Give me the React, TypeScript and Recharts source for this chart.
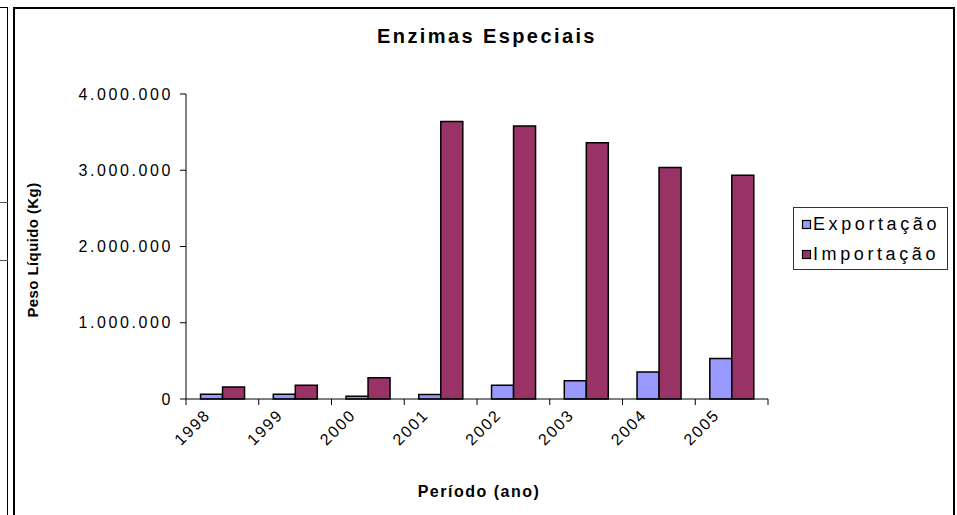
import React from 'react';
import { BarChart, Bar, XAxis, YAxis, Legend } from 'recharts';

const years = ['1998', '1999', '2000', '2001', '2002', '2003', '2004', '2005'];
const exportacao = [62000, 62000, 35000, 60000, 180000, 240000, 355000, 530000];
const importacao = [157000, 180000, 280000, 3640000, 3580000, 3360000, 3035000, 2935000];
const yTicks = [0, 1000000, 2000000, 3000000, 4000000];
const seriesNames = ['Exportação', 'Importação'];
const colors = ['#9999FF', '#993366'];

const data = years.map((y, i) => ({ year: y, exp: exportacao[i], imp: importacao[i] }));

const FONT = '"Liberation Sans", Arial, Helvetica, sans-serif';

const fmt = (v: number) => String(v).replace(/\B(?=(\d{3})+(?!\d))/g, '.');

const XTick = (props: any) => {
  const { x, y, payload, index, visibleTicksCount } = props;
  const half = payload && typeof payload.offset === 'number' && payload.offset > 0 ? payload.offset : 36.4;
  const last = index === (visibleTicksCount ?? years.length) - 1;
  const tx = x - 11;
  const ty = y + 17;
  return (
    <g>
      <line x1={x - half} x2={x - half} y1={y} y2={y + 6} stroke="#000" strokeWidth={1} />
      {last && <line x1={x + half} x2={x + half} y1={y} y2={y + 6} stroke="#000" strokeWidth={1} />}
      <text
        x={tx}
        y={ty}
        textAnchor="end"
        transform={`rotate(-45 ${tx} ${ty})`}
        fontFamily={FONT}
        fontSize={16}
        letterSpacing={1.8}
        fill="#000"
      >
        {payload.value}
      </text>
    </g>
  );
};

const renderLegend = (props: any) => {
  const payload = props.payload || [];
  return (
    <svg width={155} height={63} style={{ display: 'block' }}>
      <rect x={0.5} y={0.5} width={154} height={62} fill="#fff" stroke="#333" strokeWidth={1} />
      {payload.map((e: any, i: number) => (
        <g key={i}>
          <rect x={9.5} y={13.5 + i * 30} width={8} height={8} fill={e.color} stroke="#000" strokeWidth={1.2} />
          <text x={20} y={23 + i * 30} fontFamily={FONT} fontSize={18} letterSpacing={3.6} fill="#000">
            {e.value}
          </text>
        </g>
      ))}
    </svg>
  );
};

export default function App() {
  return (
    <div style={{ position: 'absolute', left: 0, top: 0, width: 957, height: 515, background: '#fff', overflow: 'hidden' }}>
      <BarChart
        width={957}
        height={515}
        data={data}
        margin={{ top: 94, right: 189, bottom: 56, left: 86 }}
        barCategoryGap="20%"
        barGap={0}
      >
        <XAxis
          dataKey="year"
          height={60}
          axisLine={{ stroke: '#000', strokeWidth: 1 }}
          tickLine={false}
          tickSize={0}
          tickMargin={0}
          interval={0}
          tick={<XTick />}
        />
        <YAxis
          width={100}
          domain={[0, 4000000]}
          ticks={yTicks}
          interval={0}
          tickFormatter={fmt}
          axisLine={{ stroke: '#000', strokeWidth: 1 }}
          tickLine={{ stroke: '#000', strokeWidth: 1 }}
          tickSize={6}
          tickMargin={7}
          tick={{ fill: '#000', fontSize: 16, fontFamily: FONT, letterSpacing: 2.6 }}
        />
        <Legend
          layout="vertical"
          align="center"
          verticalAlign="middle"
          content={renderLegend}
          wrapperStyle={{ position: 'absolute', left: 793, top: 207, width: 155, height: 63 }}
        />
        <Bar dataKey="exp" name={seriesNames[0]} fill={colors[0]} stroke="#000" strokeWidth={1.5} isAnimationActive={false} />
        <Bar dataKey="imp" name={seriesNames[1]} fill={colors[1]} stroke="#000" strokeWidth={1.5} isAnimationActive={false} />
      </BarChart>
      <svg width={957} height={515} style={{ position: 'absolute', left: 0, top: 0, pointerEvents: 'none' }}>
        <rect x={14} y={8} width={940} height={520} fill="none" stroke="#000" strokeWidth={2} />
        <line x1={0} x2={8} y1={7.5} y2={7.5} stroke="#000" strokeWidth={1} />
        <line x1={7.5} x2={7.5} y1={7} y2={515} stroke="#000" strokeWidth={1} />
        <line x1={0} x2={8} y1={202.5} y2={202.5} stroke="#555" strokeWidth={1} />
        <line x1={0} x2={8} y1={260.5} y2={260.5} stroke="#555" strokeWidth={1} />
        <text x={487} y={43} textAnchor="middle" fontFamily={FONT} fontWeight="bold" fontSize={20} letterSpacing={2.4} fill="#000">
          Enzimas Especiais
        </text>
        <text
          x={38}
          y={250}
          textAnchor="middle"
          transform="rotate(-90 38 250)"
          fontFamily={FONT}
          fontWeight="bold"
          fontSize={15}
          letterSpacing={0.4}
          fill="#000"
        >
          Peso Líquido (Kg)
        </text>
        <text x={479} y={497} textAnchor="middle" fontFamily={FONT} fontWeight="bold" fontSize={16} letterSpacing={1.5} fill="#000">
          Período (ano)
        </text>
      </svg>
    </div>
  );
}
